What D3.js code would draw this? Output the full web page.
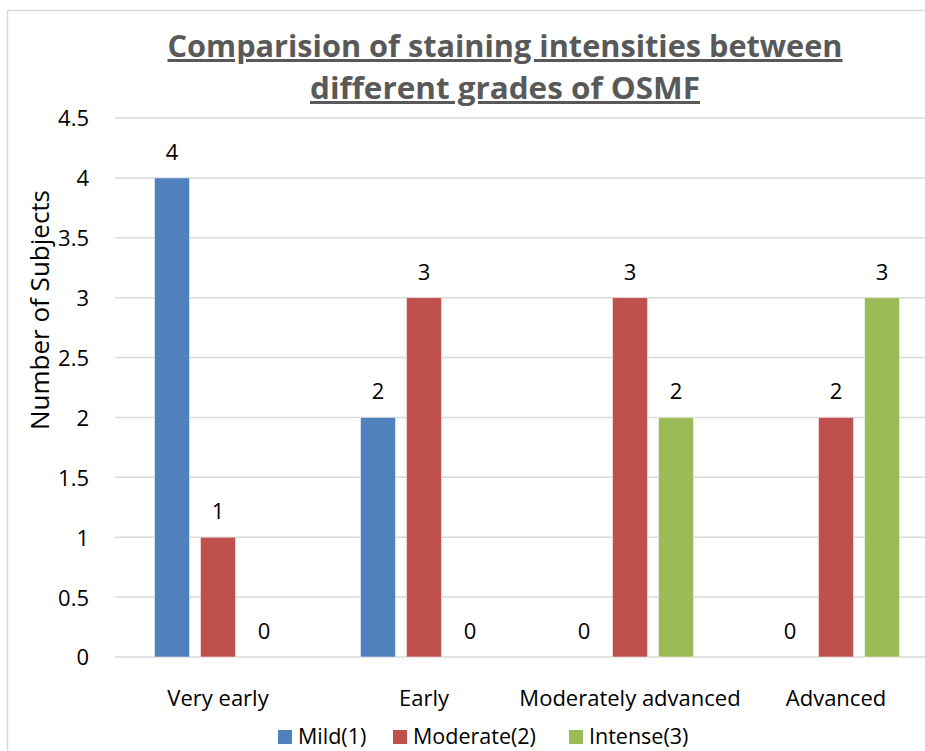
<!DOCTYPE html>
<html><head><meta charset="utf-8">
<script src="https://cdn.jsdelivr.net/npm/d3@7"></script>
<style>body{margin:0;background:#fff;} svg{display:block;}</style>
</head><body>
<svg id="c" width="925" height="751"></svg>
<script>
const categories = ["Very early", "Early", "Moderately advanced", "Advanced"];
const seriesNames = ["Mild(1)", "Moderate(2)", "Intense(3)"];
const mild = [4, 2, 0, 0];
const moderate = [1, 3, 3, 2];
const intense = [0, 0, 2, 3];
const yTicks = [0, 0.5, 1, 1.5, 2, 2.5, 3, 3.5, 4, 4.5];
const colors = ["#4F81BD", "#C0504D", "#9BBB59"];
const titleLines = ["Comparision of staining intensities between", "different grades of OSMF"];
const yTitle = "Number of Subjects";

const series = [mild, moderate, intense];
const svg = d3.select("#c");
const font = "'Open Sans', 'Noto Sans', sans-serif";

// chart border
svg.append("rect").attr("x", 7.5).attr("y", 10.5).attr("width", 940).attr("height", 760)
  .attr("fill", "none").attr("stroke", "#D9D9D9").attr("stroke-width", 1.5);

const x0 = d3.scaleBand().domain(categories).range([115, 939]).paddingInner(0).paddingOuter(0);
const x1 = d3.scaleBand().domain(seriesNames).range([0, 127]).paddingInner(11/46).paddingOuter(0);
const y = d3.scaleLinear().domain([0, 4.5]).range([657, 118]);

// gridlines
svg.append("g").selectAll("line").data(yTicks).join("line")
  .attr("x1", 115).attr("x2", 939)
  .attr("y1", d => y(d)).attr("y2", d => y(d))
  .attr("stroke", "#D9D9D9").attr("stroke-width", 1.5);

// y axis labels
const yAxis = d3.axisLeft(y).tickValues(yTicks).tickSize(0).tickPadding(0).tickFormat(d => String(d));
const ga = svg.append("g").attr("transform", "translate(89,0)").call(yAxis);
ga.select(".domain").remove();
ga.selectAll("text").attr("font-family", font).attr("font-size", 22).attr("fill", "#000").attr("dy", "0.36em");

// bars
const groups = svg.append("g").selectAll("g").data(categories).join("g")
  .attr("transform", d => `translate(${x0(d) + (x0.bandwidth() - 127) / 2},0)`);
groups.each(function(cat, ci) {
  const g = d3.select(this);
  seriesNames.forEach((s, si) => {
    const v = series[si][ci];
    if (v > 0) {
      g.append("rect").attr("x", x1(s)).attr("width", x1.bandwidth())
        .attr("y", y(v)).attr("height", y(0) - y(v))
        .attr("fill", colors[si]).attr("stroke", "#fff").attr("stroke-opacity", 0.5).attr("stroke-width", 1);
    }
    g.append("text").attr("x", x1(s) + x1.bandwidth() / 2).attr("y", y(v) - 18)
      .attr("text-anchor", "middle").attr("font-family", font).attr("font-size", 22).attr("fill", "#000")
      .text(v);
  });
});

// category labels
svg.append("g").selectAll("text").data(categories).join("text")
  .attr("x", d => x0(d) + x0.bandwidth() / 2).attr("y", 706)
  .attr("text-anchor", "middle").attr("font-family", font).attr("font-size", 22).attr("fill", "#000")
  .text(d => d);

// y title
svg.append("text").attr("transform", "translate(49,310) rotate(-90)")
  .attr("text-anchor", "middle").attr("font-family", font).attr("font-size", 26).attr("fill", "#000")
  .text(yTitle);

// title
titleLines.forEach((t, i) => {
  svg.append("text").attr("x", 505).attr("y", 57 + i * 42).attr("text-anchor", "middle")
    .attr("font-family", font).attr("font-size", 30).attr("font-weight", "bold").attr("fill", "#595959")
    .attr("text-decoration", "underline")
    .attr("textLength", i === 0 ? 675 : 390).attr("lengthAdjust", "spacingAndGlyphs")
    .text(t);
});

// legend
const legX = [278, 393, 569];
const leg = svg.append("g").selectAll("g").data(seriesNames).join("g")
  .attr("transform", (d, i) => `translate(${legX[i]},730)`);
leg.append("rect").attr("width", 14).attr("height", 14).attr("fill", (d, i) => colors[i]);
leg.append("text").attr("x", 20).attr("y", 14).attr("font-family", font).attr("font-size", 21.5).attr("fill", "#000")
  .text(d => d);
</script>
</body></html>
